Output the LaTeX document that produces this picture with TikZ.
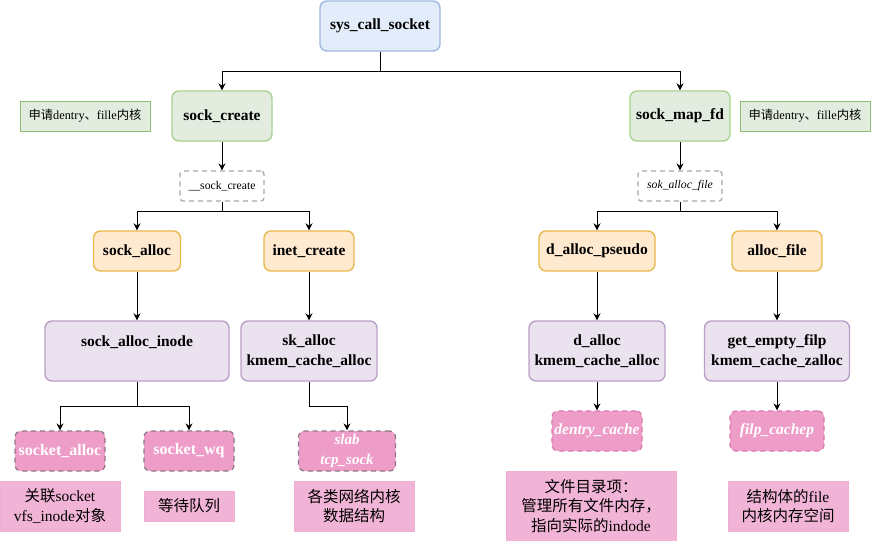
\documentclass[tikz,border=0pt]{standalone}
\usepackage{fontspec}
\setmainfont{Liberation Serif}
\newfontfamily\cjk{Noto Sans CJK SC}
\newcommand{\zh}[1]{{\cjk #1}}
\usetikzlibrary{arrows.meta}

\definecolor{bluefill}{HTML}{E3ECFA}
\definecolor{blueline}{HTML}{A0B8DE}
\definecolor{greenfill}{HTML}{E2EDE0}
\definecolor{greenline}{HTML}{A9D08E}
\definecolor{noteline}{HTML}{8CBF72}
\definecolor{orangefill}{HTML}{FFE9CF}
\definecolor{orangeline}{HTML}{E8B94E}
\definecolor{purplefill}{HTML}{EAE2EE}
\definecolor{purpleline}{HTML}{B9A0C6}
\definecolor{pinkfill}{HTML}{EE9CC8}
\definecolor{pinkgray}{HTML}{8C7884}
\definecolor{pinkline}{HTML}{D77AAB}
\definecolor{notefill}{HTML}{F2B4D6}
\definecolor{notepink}{HTML}{F0AED2}

\tikzset{
  >={Stealth[length=7pt,width=7pt]},
  func/.style={draw,rounded corners=7pt,line width=1.4pt,inner sep=0pt,align=center,
    font=\bfseries\fontsize{15.5}{20}\selectfont},
  callbox/.style={func,fill=bluefill,draw=blueline},
  sockbox/.style={func,fill=greenfill,draw=greenline},
  allocbox/.style={func,fill=orangefill,draw=orangeline},
  cachebox/.style={func,fill=purplefill,draw=purpleline},
  inner/.style={draw=gray!70,dash pattern=on 5pt off 4pt,rounded corners=3pt,line width=1.2pt,
    inner sep=0pt,font=\fontsize{11.7}{13}\selectfont},
  slabbox/.style={draw=pinkgray,fill=pinkfill,dash pattern=on 5pt off 4pt,rounded corners=6pt,
    line width=1.2pt,inner sep=0pt,align=center,text=white,font=\bfseries\fontsize{16}{18}\selectfont},
  memo/.style={draw=noteline,fill=greenfill,inner sep=0pt,font=\fontsize{12.3}{14}\selectfont},
  remark/.style={draw=notepink,fill=notefill,inner sep=0pt,align=center,
    font=\fontsize{15.5}{19.5}\selectfont},
  link/.style={->,line width=0.9pt}
}

\begin{document}
\begin{tikzpicture}[x=1pt,y=-1pt]
  \useasboundingbox (0,0) rectangle (871,541);

  % top
  \node[callbox,minimum width=120pt,minimum height=50pt] (SYS) at (380,26) {sys\_call\_socket};

  \node[sockbox,minimum width=100pt,minimum height=50pt] (SCREATE) at (222,116) {sock\_create};
  \node[sockbox,minimum width=100pt,minimum height=50pt] (SMAP) at (680,116) {sock\_map\_fd};
  \node[memo,minimum width=130pt,minimum height=30pt] (MEMOL) at (85,116) {\zh{申请}dentry\zh{、}fille\zh{内核}};
  \node[memo,minimum width=130pt,minimum height=30pt] (MEMOR) at (805,116) {\zh{申请}dentry\zh{、}fille\zh{内核}};

  \node[inner,minimum width=84pt,minimum height=30pt] (SC) at (222,186) {\_\_sock\_create};
  \node[inner,minimum width=84pt,minimum height=30pt] (SAF) at (680,186) {\itshape sok\_alloc\_file};

  % second level
  \node[allocbox,minimum width=87pt,minimum height=40pt] (SALLOC) at (137,251) {sock\_alloc};
  \node[allocbox,minimum width=90pt,minimum height=40pt] (INET) at (309,251) {inet\_create};
  \node[allocbox,minimum width=116pt,minimum height=40pt] (DPSEUDO) at (597,251) {d\_alloc\_pseudo};
  \node[allocbox,minimum width=90pt,minimum height=40pt] (AFILE) at (777,251) {alloc\_file};

  \node[cachebox,minimum width=184pt,minimum height=60pt] (INODE) at (137,351) {sock\_alloc\_inode\\\mbox{}};
  \node[cachebox,minimum width=136pt,minimum height=60pt] (SKALLOC) at (309,351) {sk\_alloc\\kmem\_cache\_alloc};
  \node[cachebox,minimum width=136pt,minimum height=60pt] (DALLOC) at (597,351) {d\_alloc\\kmem\_cache\_alloc};
  \node[cachebox,minimum width=145pt,minimum height=60pt] (FILP) at (777,351) {get\_empty\_filp\\kmem\_cache\_zalloc};

  % caches
  \node[slabbox,minimum width=90pt,minimum height=40pt] (SOCKALLOC) at (60,451) {socket\_alloc};
  \node[slabbox,minimum width=90pt,minimum height=40pt] (SWQ) at (189,451) {socket\_wq};
  \node[slabbox,minimum width=97pt,minimum height=40pt,font=\bfseries\itshape\fontsize{15}{20}\selectfont] (SLAB) at (347,451) {slab\\tcp\_sock};
  \node[slabbox,draw=pinkline,minimum width=90pt,minimum height=40pt,font=\bfseries\itshape\fontsize{15.5}{18}\selectfont] (DCACHE) at (597,431) {dentry\_cache};
  \node[slabbox,draw=pinkline,minimum width=94pt,minimum height=40pt,font=\bfseries\itshape\fontsize{15.5}{18}\selectfont] (FCACHE) at (777,431) {filp\_cachep};

  % remarks
  \node[remark,minimum width=120pt,minimum height=50pt] (R1) at (60,506) {\zh{关联}socket\\vfs\_inode\zh{对象}};
  \node[remark,minimum width=90pt,minimum height=30pt] (R2) at (189,506) {\zh{等待队列}};
  \node[remark,minimum width=120pt,minimum height=50pt] (R3) at (354,506) {\zh{各类网络内核}\\\zh{数据结构}};
  \node[remark,minimum width=170pt,minimum height=70pt] (R4) at (591,506) {\zh{文件目录项：}\\\zh{管理所有文件内存，}\\\zh{指向实际的}indode};
  \node[remark,minimum width=120pt,minimum height=50pt] (R5) at (788,506) {\zh{结构体的}file\\\zh{内核内存空间}};

  \draw[link] (SYS.south) -- ++(0,20) -| (SCREATE.north);
  \draw[link] (SYS.south) -- ++(0,20) -| (SMAP.north);
  \draw[link] (SCREATE) -- (SC);
  \draw[link] (SMAP) -- (SAF);
  \draw[link] (SC.south) -- ++(0,10) -| (SALLOC.north);
  \draw[link] (SC.south) -- ++(0,10) -| (INET.north);
  \draw[link] (SAF.south) -- ++(0,10) -| (DPSEUDO.north);
  \draw[link] (SAF.south) -- ++(0,10) -| (AFILE.north);
  \draw[link] (SALLOC) -- (INODE);
  \draw[link] (INET) -- (SKALLOC);
  \draw[link] (DPSEUDO) -- (DALLOC);
  \draw[link] (AFILE) -- (FILP);
  \draw[link] (INODE.south) -- ++(0,25) -| (SOCKALLOC.north);
  \draw[link] (INODE.south) -- ++(0,25) -| (SWQ.north);
  \draw[link] (SKALLOC.south) -- ++(0,25) -| (SLAB.north);
  \draw[link] (DALLOC) -- (DCACHE);
  \draw[link] (FILP) -- (FCACHE);
\end{tikzpicture}
\end{document}
